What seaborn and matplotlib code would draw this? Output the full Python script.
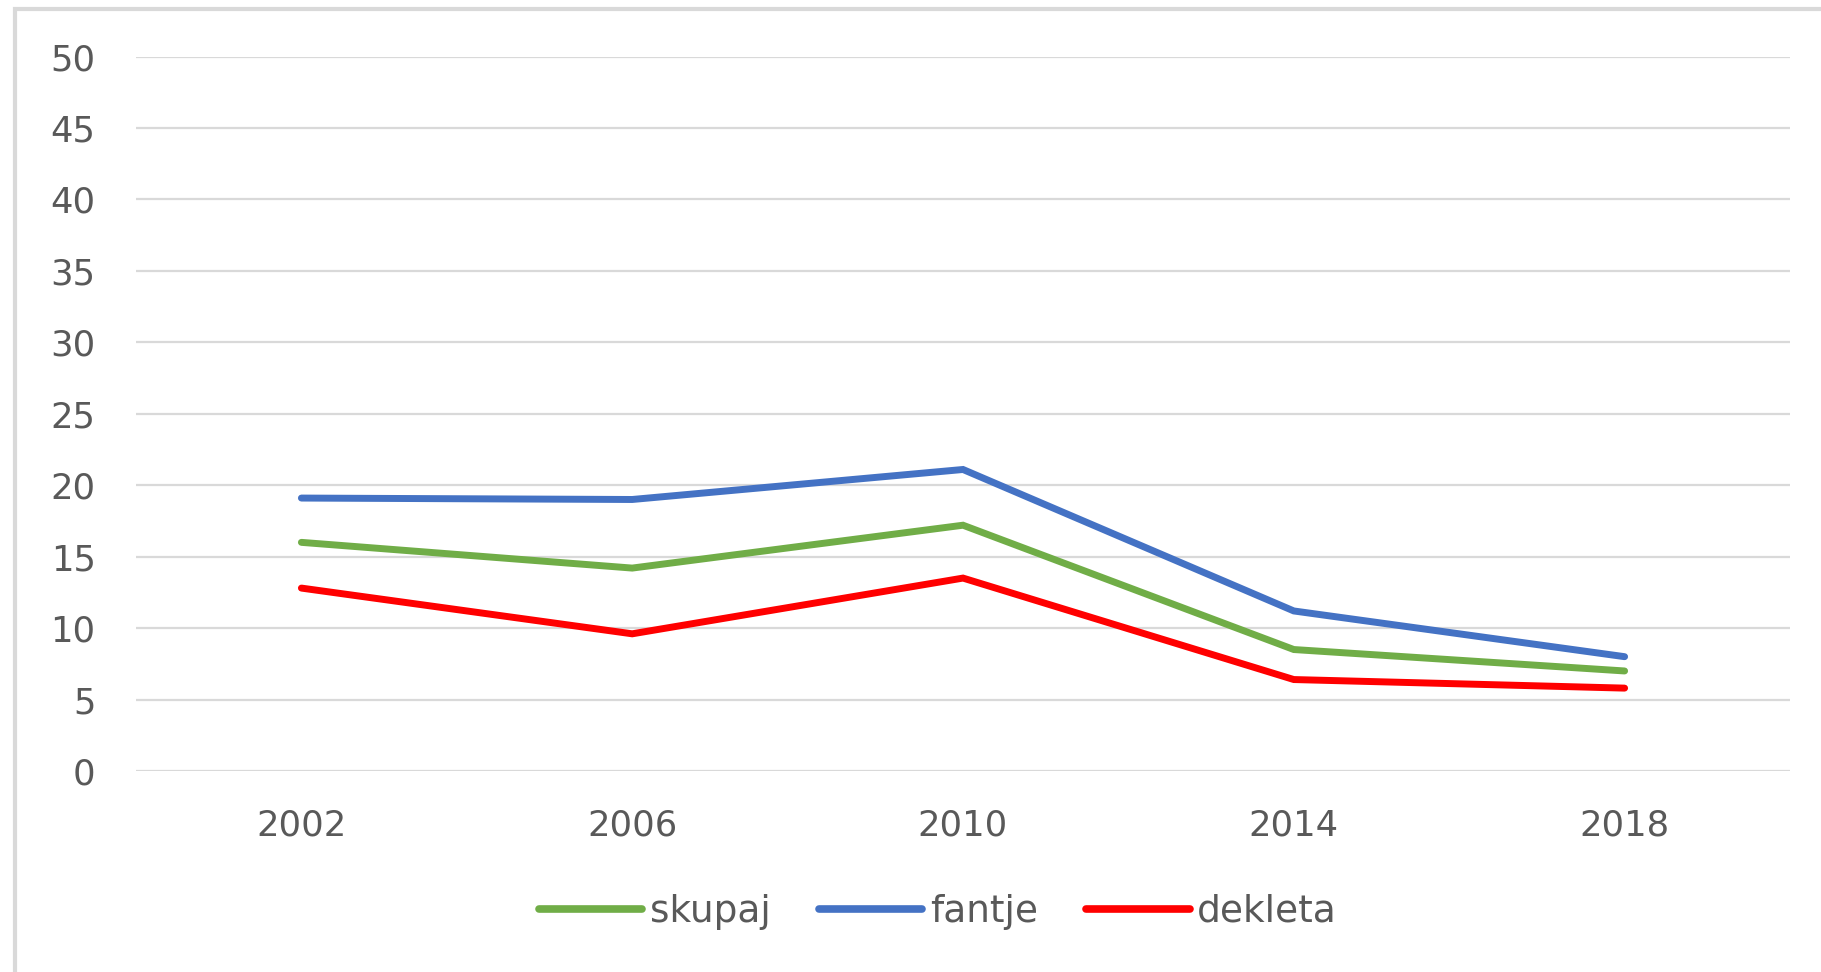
import numpy as np
import pandas as pd
import matplotlib
matplotlib.use("Agg")
import matplotlib.pyplot as plt
import seaborn as sns
from matplotlib.patches import Rectangle

years = ["2002", "2006", "2010", "2014", "2018"]
skupaj = [16.0, 14.2, 17.2, 8.5, 7.0]
fantje = [19.1, 19.0, 21.1, 11.2, 8.0]
dekleta = [12.8, 9.6, 13.5, 6.4, 5.8]

series_names = ["skupaj", "fantje", "dekleta"]
colors = ["#70AD47", "#4472C4", "#FF0000"]

df = pd.DataFrame({"leto": years, "skupaj": skupaj, "fantje": fantje, "dekleta": dekleta})
df = df.melt(id_vars="leto", var_name="serija", value_name="vrednost")

sns.set_style("white")
plt.rcParams['font.family'] = ['DejaVu Sans']

fig = plt.figure(figsize=(18.21, 9.72), dpi=100)
ax = fig.add_axes([136 / 1821, 1 - 771 / 972, (1790 - 136) / 1821, (771 - 56.5) / 972])

sns.lineplot(data=df, x="leto", y="vrednost", hue="serija", hue_order=series_names,
             palette=colors, linewidth=5, ax=ax, sort=False, legend=True)
for line in ax.lines:
    line.set_solid_capstyle("round")
    line.set_solid_joinstyle("miter")

ax.set_xlim(-0.5, 4.5)
ax.set_ylim(0, 50)
ax.set_yticks(range(0, 51, 5))
ax.grid(axis="y", color="#D9D9D9", linewidth=1.6)
ax.set_axisbelow(True)
for s in ax.spines.values():
    s.set_visible(False)
ax.set_xlabel("")
ax.set_ylabel("")
ax.tick_params(axis="both", length=0, labelsize=25.5, colors="#595959")
ax.tick_params(axis="y", pad=29)
ax.tick_params(axis="x", pad=27)

handles, labels = ax.get_legend_handles_labels()
ax.get_legend().remove()
leg = fig.legend(handles, labels, loc="center", bbox_to_anchor=(0.515, 1 - 912 / 972),
                 ncol=3, frameon=False, fontsize=27, handlelength=2.75,
                 handletextpad=0.2, columnspacing=1.3)
for t in leg.get_texts():
    t.set_color("#595959")
for h in leg.legend_handles:
    h.set_linewidth(5.5)
    h.set_solid_capstyle("round")

# outer chart frame (light grey, open at right/bottom edges)
fig.patches.append(Rectangle((15 / 1821, -0.05), 1.1, 1 - 9 / 972 + 0.05,
                             transform=fig.transFigure, fill=False,
                             edgecolor="#D9D9D9", linewidth=3, zorder=0))

fig.savefig("out.png", dpi=100)
